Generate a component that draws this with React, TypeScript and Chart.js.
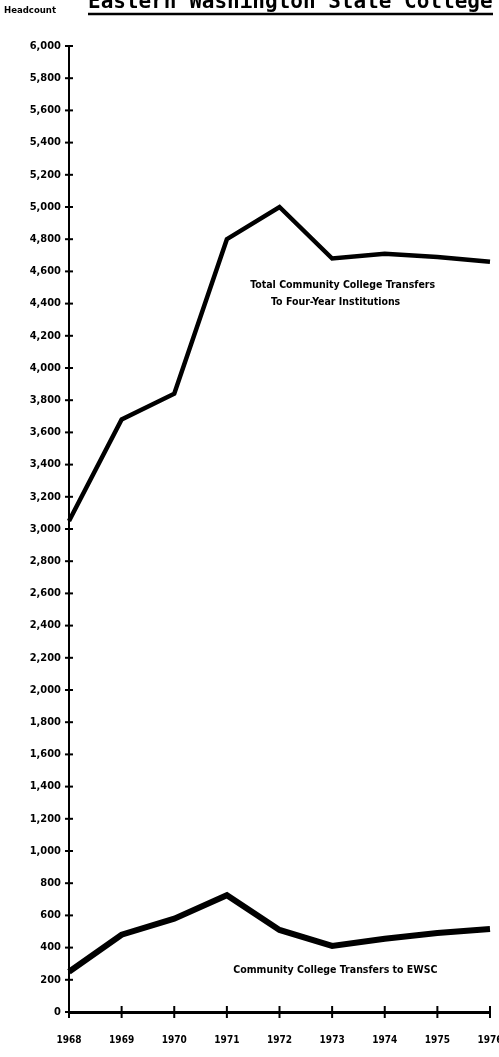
import React, { useEffect, useRef } from "react";
import { Chart, registerables } from "chart.js";
Chart.register(...registerables);

const years = ["1968", "1969", "1970", "1971", "1972", "1973", "1974", "1975", "1976"];
const totalTransfers = [3050, 3680, 3840, 4800, 5000, 4680, 4710, 4690, 4660];
const ewscTransfers = [250, 480, 580, 725, 510, 410, 455, 490, 515];
const yMin = 0;
const yMax = 6000;
const yStep = 200;
const titleText = "Eastern Washington State College";
const yAxisLabel = "Headcount";
const totalLabelLines = ["Total Community College Transfers", "To Four-Year Institutions"];
const ewscLabel = "Community College Transfers to EWSC";

const FONT = '"Liberation Sans Narrow", "DejaVu Sans Condensed", "DejaVu Sans", sans-serif';

const decorPlugin = {
  id: "decor",
  afterDraw(chart: any) {
    const ctx = chart.ctx;
    const x = chart.scales.x;
    const y = chart.scales.y;
    ctx.save();
    ctx.fillStyle = "#000";
    ctx.strokeStyle = "#000";
    // y tick crosses
    ctx.lineWidth = 2;
    for (let v = yMin; v <= yMax; v += yStep) {
      const py = y.getPixelForValue(v);
      ctx.beginPath();
      ctx.moveTo(x.left - 4, py);
      ctx.lineTo(x.left + 4, py);
      ctx.stroke();
    }
    // x tick crosses
    for (let i = 0; i < years.length; i++) {
      const px = x.getPixelForValue(i);
      ctx.beginPath();
      ctx.moveTo(px, y.bottom - 6);
      ctx.lineTo(px, y.bottom + 6);
      ctx.stroke();
    }
    // title (cut off at top)
    ctx.font = 'bold 21px "DejaVu Sans Mono", monospace';
    ctx.textAlign = "left";
    ctx.textBaseline = "alphabetic";
    ctx.fillText(titleText, 88, 8);
    ctx.lineWidth = 2.5;
    ctx.beginPath();
    ctx.moveTo(88, 14);
    ctx.lineTo(493, 14);
    ctx.stroke();
    // headcount
    ctx.font = "bold 9.5px " + FONT;
    ctx.textBaseline = "middle";
    ctx.fillText(yAxisLabel, 4, 11);
    // annotations
    ctx.font = "bold 10.5px " + FONT;
    ctx.textAlign = "center";
    const ax = x.getPixelForValue(5.2);
    ctx.fillText(totalLabelLines[0], ax, y.getPixelForValue(4515));
    ctx.fillText(totalLabelLines[1], ax - 7, y.getPixelForValue(4410));
    ctx.fillText(ewscLabel, x.getPixelForValue(5.1) - 2, y.getPixelForValue(262));
    ctx.restore();
  },
};

export default function App() {
  const ref = useRef<HTMLCanvasElement>(null);
  useEffect(() => {
    const chart = new Chart(ref.current as HTMLCanvasElement, {
      type: "line",
      data: {
        labels: years,
        datasets: [
          {
            label: "Total Community College Transfers to Four-Year Institutions",
            data: totalTransfers,
            borderColor: "#000",
            borderWidth: 4.5,
            pointRadius: 0,
            tension: 0,
            fill: false,
          },
          {
            label: "Community College Transfers to EWSC",
            data: ewscTransfers,
            borderColor: "#000",
            borderWidth: 6,
            pointRadius: 0,
            tension: 0,
            fill: false,
          },
        ],
      },
      options: {
        animation: false,
        responsive: false,
        devicePixelRatio: 1,
        layout: { padding: { top: 46, right: 25, left: 0, bottom: 0 } },
        plugins: { legend: { display: false }, tooltip: { enabled: false }, title: { display: false } },
        scales: {
          x: {
            type: "category",
            offset: false,
            grid: { display: false, drawTicks: false },
            border: { display: true, color: "#000", width: 3 },
            ticks: {
              padding: 22,
              color: "#000",
              font: { family: FONT, size: 10, weight: "bold" },
              maxRotation: 0,
              autoSkip: false,
            },
            afterFit: (s: any) => {
              s.height = 45;
              s.paddingRight = 0;
              s.paddingLeft = 0;
            },
          },
          y: {
            min: yMin,
            max: yMax,
            grid: { display: false, drawTicks: false },
            border: { display: true, color: "#000", width: 2 },
            ticks: {
              stepSize: yStep,
              padding: 8,
              color: "#000",
              font: { family: FONT, size: 11, weight: "bold" },
              callback: (v: any) => Number(v).toLocaleString("en-US"),
            },
            afterFit: (s: any) => {
              s.width = 69;
              s.paddingTop = 0;
              s.paddingBottom = 0;
            },
          },
        },
      },
      plugins: [decorPlugin],
    } as any);
    return () => chart.destroy();
  }, []);
  return (
    <div style={{ position: "fixed", left: 0, top: 0, width: 499, height: 1057, overflow: "hidden", background: "#fff" }}>
      <canvas ref={ref} width={515} height={1057} style={{ display: "block", width: 515, height: 1057 }} />
    </div>
  );
}
